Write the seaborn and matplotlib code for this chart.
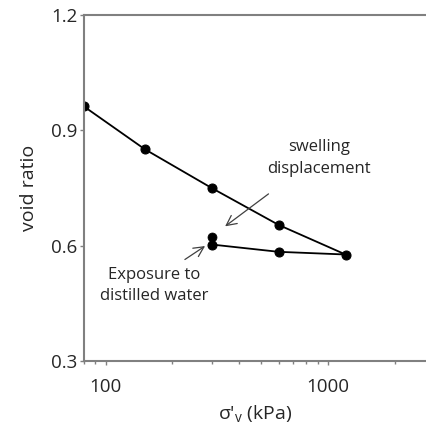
import matplotlib
matplotlib.use("Agg")
import matplotlib.pyplot as plt
import matplotlib.ticker as mticker
import seaborn as sns
import pandas as pd

# Data (path of loading / unloading)
stress_kpa = [80, 150, 300, 600, 1200, 600, 300]
void_ratio = [0.962, 0.851, 0.750, 0.654, 0.577, 0.584, 0.603]
# swelling point after exposure to distilled water
swell_stress = [300]
swell_void = [0.623]

xticks = [100, 1000]
xtick_labels = ["100", "1000"]
yticks = [0.3, 0.6, 0.9, 1.2]
ytick_labels = ["0.3", "0.6", "0.9", "1.2"]

sns.set_style("white")
plt.rcParams['font.family'] = ['Open Sans', 'DejaVu Sans']

fig = plt.figure(figsize=(4.26, 4.29), dpi=100)
ax = fig.add_axes([84/426, 68/429, 1 - 84/426, (361 - 15)/429])

df = pd.DataFrame({"s": stress_kpa, "e": void_ratio})
sns.lineplot(data=df, x="s", y="e", sort=False, estimator=None, color="black",
             lw=1.3, marker="o", markersize=6.5, markeredgecolor="black", ax=ax)
sns.scatterplot(x=swell_stress, y=swell_void, color="black", s=42, edgecolor="black",
                ax=ax, zorder=5)

ax.set_xscale("log")
ax.set_xlim(80, 2760)
ax.set_ylim(0.3, 1.2)
ax.set_xticks(xticks)
ax.set_xticklabels(xtick_labels)
ax.xaxis.set_minor_locator(mticker.LogLocator(base=10, subs=range(2, 10)))
ax.xaxis.set_minor_formatter(mticker.NullFormatter())
ax.set_yticks(yticks)
ax.set_yticklabels(ytick_labels)

spine_col = "#808080"
txt_col = "#262626"
for side in ["left", "bottom", "top"]:
    ax.spines[side].set_color(spine_col)
    ax.spines[side].set_linewidth(1.5)
ax.spines["right"].set_visible(False)

ax.tick_params(axis="both", which="major", direction="out", length=3, width=1,
               color=spine_col, labelsize=13.5, labelcolor=txt_col, pad=2)
ax.tick_params(axis="x", which="minor", direction="out", length=2.5, width=1,
               color=spine_col)
ax.tick_params(axis="x", which="major", pad=9)
ax.tick_params(left=True, bottom=True)
ax.tick_params(axis="x", which="minor", bottom=True)

ax.set_ylabel("void ratio", fontsize=14, color=txt_col, labelpad=9)
ax.set_xlabel("σ'$_\\mathregular{v}$ (kPa)", fontsize=14, color=txt_col, labelpad=6)

arrow_kw = dict(arrowstyle="->", color="#404040", lw=0.9, mutation_scale=18)
ax.annotate("", xy=(337, 0.646), xytext=(553, 0.739), xycoords="data",
            arrowprops=arrow_kw)
ax.text(910, 0.828, "swelling\ndisplacement", ha="center", va="center",
        fontsize=12, color=txt_col, linespacing=1.45)

ax.annotate("", xy=(287, 0.603), xytext=(222, 0.560), arrowprops=arrow_kw)
ax.text(166, 0.497, "Exposure to\ndistilled water", ha="center", va="center",
        fontsize=12, color=txt_col, linespacing=1.45)

fig.savefig("out.png", dpi=100)
